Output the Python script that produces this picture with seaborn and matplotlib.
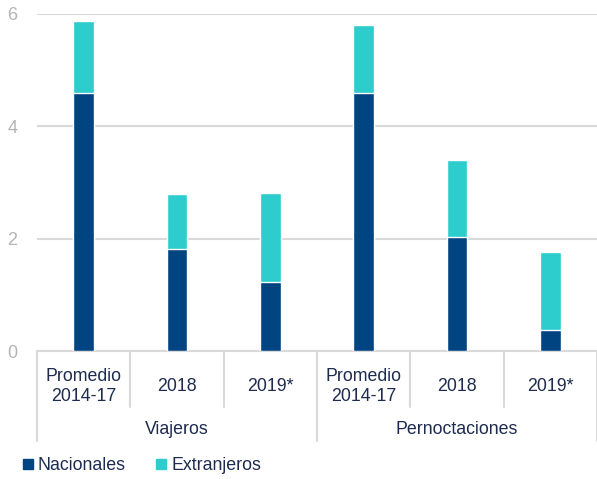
import matplotlib
matplotlib.use('Agg')
import matplotlib.pyplot as plt
import matplotlib.transforms as mtransforms
from matplotlib.lines import Line2D
import seaborn as sns
import pandas as pd

# datos (millones)
categorias = ['Promedio\n2014-17', '2018', '2019*', 'Promedio\n2014-17 ', '2018 ', '2019* ']
grupos = ['Viajeros', 'Pernoctaciones']
nacionales = [4.59, 1.82, 1.22, 4.59, 2.03, 0.37]
extranjeros = [1.28, 0.97, 1.60, 1.21, 1.37, 1.39]

c_nac = '#004481'
c_ext = '#2dcccd'
c_txt = '#1d2b4f'
c_grid = '#d9d9d9'

sns.set_theme(style='white')
plt.rcParams['font.family'] = ['Liberation Sans', 'DejaVu Sans']

df = pd.DataFrame({'cat': categorias, 'nac': nacionales, 'ext': extranjeros})
df['total'] = df['nac'] + df['ext']

fig = plt.figure(figsize=(5.97, 4.79), dpi=100)
ax = fig.add_axes([37 / 597, 1 - 351 / 479, 1 - 37 / 597, 337 / 479])

sns.barplot(data=df, x='cat', y='total', color=c_ext, width=0.22, saturation=1, ax=ax, zorder=2)
sns.barplot(data=df, x='cat', y='nac', color=c_nac, width=0.22, saturation=1, ax=ax, zorder=3)

ax.set_ylim(0, 6)
ax.set_xlim(-0.5, 5.5)
ax.set_yticks([0, 2, 4, 6])
ax.yaxis.grid(True, color=c_grid, linewidth=1.5, zorder=0)
ax.set_axisbelow(True)
for s in ['top', 'right', 'left']:
    ax.spines[s].set_visible(False)
ax.spines['bottom'].set_color(c_grid)
ax.spines['bottom'].set_linewidth(1.5)
ax.set_xlabel('')
ax.set_ylabel('')
ax.set_xticks([])
ax.tick_params(axis='y', length=0, labelsize=13, labelcolor='#b5b5b5', pad=14)

fs = 12.8
trans = mtransforms.blended_transform_factory(ax.transData, ax.transAxes)
for i, c in enumerate(categorias):
    ax.text(i, -0.105, c.strip(), transform=trans, ha='center', va='center',
            fontsize=fs, color=c_txt, linespacing=1.2)
# separadores de categorias
for x in [0.5, 1.5, 3.5, 4.5]:
    ax.add_line(Line2D([x, x], [0, -0.166], transform=trans, color=c_grid,
                       linewidth=1.5, clip_on=False))
# separadores de grupos
for x in [-0.5, 2.5, 5.5]:
    ax.add_line(Line2D([x, x], [0, -0.267], transform=trans, color=c_grid,
                       linewidth=1.5, clip_on=False))
for j, g in enumerate(grupos):
    ax.text(1 + 3 * j, -0.234, g, transform=trans, ha='center', va='center',
            fontsize=fs, color=c_txt)

handles = [Line2D([], [], marker='s', linestyle='', color=c_nac, markersize=7.5),
           Line2D([], [], marker='s', linestyle='', color=c_ext, markersize=7.5)]
leg = fig.legend(handles, ['Nacionales', 'Extranjeros'], loc='center left',
                 bbox_to_anchor=(0.035, 1 - 466 / 479), ncol=2, frameon=False,
                 fontsize=fs, handletextpad=0.15, columnspacing=1.6,
                 handlelength=0.8, borderaxespad=0, borderpad=0)
for t in leg.get_texts():
    t.set_color(c_txt)

fig.savefig('out.png', dpi=100)
